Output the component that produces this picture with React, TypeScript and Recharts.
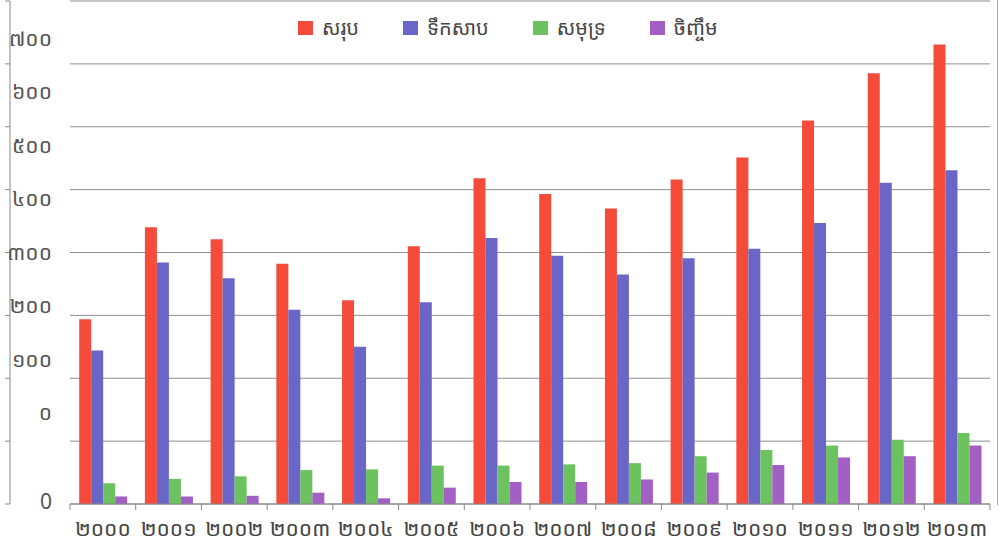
import React from 'react';
import { BarChart, Bar, XAxis, YAxis, CartesianGrid, Legend } from 'recharts';

const years = ['២០០០', '២០០១', '២០០២', '២០០៣', '២០០៤', '២០០៥', '២០០៦', '២០០៧', '២០០៨', '២០០៩', '២០១០', '២០១១', '២០១២', '២០១៣'];
const total = [294, 440, 421, 382, 324, 410, 518, 493, 470, 516, 551, 610, 685, 731];
const freshwater = [244, 384, 359, 309, 250, 321, 423, 395, 365, 391, 406, 447, 511, 531];
const marine = [33, 40, 44, 54, 55, 61, 61, 63, 65, 76, 86, 93, 102, 113];
const aquaculture = [12, 12, 13, 18, 9, 26, 35, 35, 39, 50, 62, 74, 76, 93];
const seriesNames = ['សរុប', 'ទឹកសាប', 'សមុទ្រ', 'ចិញ្ចឹម'];
const seriesColors = ['#F44B3B', '#6A66C8', '#6CC25E', '#A260C4'];

const gridTicks = [0, 100, 200, 300, 400, 500, 600, 700, 800];
// printed (offset) y-axis labels as they appear in the source
const labelTickValues = [4, 170, 270, 370, 470, 570, 670, 770, 870];
const labelTickTexts = ['0', '០', '១០០', '២០០', '៣០០', '៤០០', '៥០០', '៦០០', '៧០០'];

const data = years.map((y, i) => ({
  year: y,
  total: total[i],
  freshwater: freshwater[i],
  marine: marine[i],
  aquaculture: aquaculture[i],
}));

const FONT = "'Khmer OS', 'Khmer OS System', 'Noto Sans Khmer', 'Noto Serif Khmer', 'Hanuman', 'DejaVu Sans', sans-serif";
const CHART_W = 1004;
const CHART_H = 549;
const MARGIN = { top: 1, right: 14, left: 4, bottom: 0 };
const PLOT_LEFT = 70;
const HALF_BAND = (CHART_W - MARGIN.right - PLOT_LEFT) / years.length / 2;

const XTick = (props: any) => {
  const { x, y, payload, index } = props;
  const top = y - 8;
  return (
    <g>
      <line x1={x - HALF_BAND} x2={x - HALF_BAND} y1={top} y2={top + 6} stroke="#888" />
      {index === years.length - 1 && (
        <line x1={x + HALF_BAND} x2={x + HALF_BAND} y1={top} y2={top + 6} stroke="#888" />
      )}
      <text x={x} y={top + 32} textAnchor="middle" fill="#444" fontSize={21} fontFamily={FONT}>
        {payload.value}
      </text>
    </g>
  );
};

const renderLegend = (props: any) => {
  const items = [...(props.payload || [])].sort(
    (a: any, b: any) => seriesNames.indexOf(a.value) - seriesNames.indexOf(b.value)
  );
  return (
    <div style={{ display: 'flex', alignItems: 'center', fontFamily: FONT }}>
      {items.map((e: any, i: number) => (
        <div key={i} style={{ display: 'flex', alignItems: 'center', marginRight: 44 }}>
          <span style={{ display: 'inline-block', width: 15, height: 14, background: e.color }} />
          <span style={{ marginLeft: 9, fontSize: 20, color: '#444' }}>{e.value}</span>
        </div>
      ))}
    </div>
  );
};

export default function App() {
  return (
    <div style={{ position: 'absolute', left: 0, top: 0, width: CHART_W, height: CHART_H, background: '#fff' }}>
      <BarChart width={CHART_W} height={CHART_H} data={data} margin={MARGIN} barCategoryGap="14%" barGap={0}>
        <CartesianGrid yAxisId="v" horizontal vertical={false} stroke="#8f8f8f" />
        <XAxis
          dataKey="year"
          height={45}
          axisLine={{ stroke: '#888' }}
          tickLine={false}
          tick={<XTick />}
          interval={0}
        />
        <YAxis
          yAxisId="v"
          width={6}
          domain={[0, 800]}
          ticks={gridTicks}
          axisLine={{ stroke: '#888' }}
          tickLine={{ stroke: '#888' }}
          tickSize={5}
          tick={() => <g />}
        />
        <YAxis
          yAxisId="lab"
          type="number"
          width={60}
          domain={[0, 940]}
          allowDataOverflow
          ticks={labelTickValues}
          interval={0}
          axisLine={false}
          tickLine={false}
          tickMargin={12}
          tickFormatter={(v: number) => labelTickTexts[labelTickValues.indexOf(v)]}
          tick={{ fill: '#555', fontSize: 21, fontFamily: FONT }}
        />
        <Legend
          layout="horizontal"
          verticalAlign="middle"
          align="center"
          content={renderLegend}
          wrapperStyle={{ top: 14, left: 298, width: 'auto' }}
        />
        <Bar yAxisId="v" dataKey="total" name={seriesNames[0]} fill={seriesColors[0]} isAnimationActive={false} />
        <Bar yAxisId="v" dataKey="freshwater" name={seriesNames[1]} fill={seriesColors[1]} isAnimationActive={false} />
        <Bar yAxisId="v" dataKey="marine" name={seriesNames[2]} fill={seriesColors[2]} isAnimationActive={false} />
        <Bar yAxisId="v" dataKey="aquaculture" name={seriesNames[3]} fill={seriesColors[3]} isAnimationActive={false} />
      </BarChart>
      <div style={{ position: 'absolute', left: 997, top: 0, width: 0, height: 505, borderLeft: '1px solid #aaa' }} />
    </div>
  );
}
